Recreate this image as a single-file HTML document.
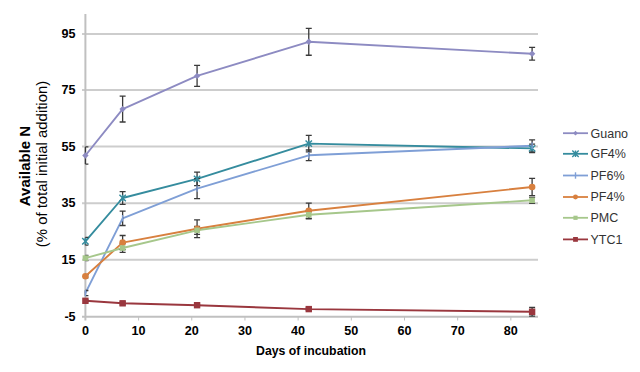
<!DOCTYPE html>
<html><head><meta charset="utf-8">
<style>
html,body{margin:0;padding:0;background:#fff;}
body{width:640px;height:372px;position:relative;overflow:hidden;font-family:"Liberation Sans",sans-serif;}
svg{position:absolute;left:0;top:0;}
.yt{position:absolute;left:40px;width:35.6px;text-align:right;font-weight:bold;font-size:12.6px;line-height:16px;color:#000;transform:scaleY(1.07);}
.xt{position:absolute;top:322.6px;width:40px;text-align:center;font-weight:bold;font-size:12.6px;line-height:16px;color:#000;transform:scaleY(1.07);}
.lg{position:absolute;left:590.5px;font-size:12.5px;line-height:16px;color:#333;}
.ttl{position:absolute;white-space:nowrap;color:#000;}
</style></head><body>
<svg width="640" height="372" viewBox="0 0 640 372">
<line x1="82" y1="34.0" x2="538" y2="34.0" stroke="#cdcdcd" stroke-width="2"/>
<line x1="82" y1="89.9" x2="538" y2="89.9" stroke="#cdcdcd" stroke-width="2"/>
<line x1="82" y1="146.6" x2="538" y2="146.6" stroke="#cdcdcd" stroke-width="2"/>
<line x1="82" y1="203.2" x2="538" y2="203.2" stroke="#cdcdcd" stroke-width="2"/>
<line x1="82" y1="259.7" x2="538" y2="259.7" stroke="#cdcdcd" stroke-width="2"/>
<line x1="82" y1="316.8" x2="538" y2="316.8" stroke="#c0c0c0" stroke-width="2"/>
<line x1="85.4" y1="14" x2="85.4" y2="320.5" stroke="#c0c0c0" stroke-width="2"/>
<line x1="138.58" y1="316.8" x2="138.58" y2="320.5" stroke="#c0c0c0" stroke-width="1"/>
<line x1="191.76" y1="316.8" x2="191.76" y2="320.5" stroke="#c0c0c0" stroke-width="1"/>
<line x1="244.94" y1="316.8" x2="244.94" y2="320.5" stroke="#c0c0c0" stroke-width="1"/>
<line x1="298.12" y1="316.8" x2="298.12" y2="320.5" stroke="#c0c0c0" stroke-width="1"/>
<line x1="351.30" y1="316.8" x2="351.30" y2="320.5" stroke="#c0c0c0" stroke-width="1"/>
<line x1="404.48" y1="316.8" x2="404.48" y2="320.5" stroke="#c0c0c0" stroke-width="1"/>
<line x1="457.66" y1="316.8" x2="457.66" y2="320.5" stroke="#c0c0c0" stroke-width="1"/>
<line x1="510.84" y1="316.8" x2="510.84" y2="320.5" stroke="#c0c0c0" stroke-width="1"/>
<polyline points="85.40,155.50 122.63,109.10 197.08,75.90 308.76,41.80 532.11,53.80" fill="none" stroke="#8d8bc2" stroke-width="1.9" stroke-linejoin="round"/>
<polyline points="85.40,241.30 122.63,198.00 197.08,178.90 308.76,143.60 532.11,148.40" fill="none" stroke="#358c9e" stroke-width="1.9" stroke-linejoin="round"/>
<polyline points="85.40,293.10 122.63,218.30 197.08,188.60 308.76,155.30 532.11,145.80" fill="none" stroke="#7f9fd6" stroke-width="1.9" stroke-linejoin="round"/>
<polyline points="85.40,276.30 122.63,242.60 197.08,228.70 308.76,210.80 532.11,187.00" fill="none" stroke="#d8803f" stroke-width="1.9" stroke-linejoin="round"/>
<polyline points="85.40,258.10 122.63,248.00 197.08,230.30 308.76,214.80 532.11,200.30" fill="none" stroke="#a6c78b" stroke-width="1.9" stroke-linejoin="round"/>
<polyline points="85.40,300.80 122.63,303.30 197.08,305.20 308.76,309.10 532.11,311.80" fill="none" stroke="#9a373e" stroke-width="1.9" stroke-linejoin="round"/>
<path d="M85.40 146.90L85.40 164.10M85.40 146.90L88.40 146.90M85.40 164.10L88.40 164.10" stroke="#3a3a3a" stroke-width="1.3" fill="none"/>
<path d="M122.63 96.20L122.63 122.00M119.63 96.20L125.63 96.20M119.63 122.00L125.63 122.00" stroke="#3a3a3a" stroke-width="1.3" fill="none"/>
<path d="M197.08 65.40L197.08 86.40M194.08 65.40L200.08 65.40M194.08 86.40L200.08 86.40" stroke="#3a3a3a" stroke-width="1.3" fill="none"/>
<path d="M308.76 28.35L308.76 55.25M305.76 28.35L311.76 28.35M305.76 55.25L311.76 55.25" stroke="#3a3a3a" stroke-width="1.3" fill="none"/>
<path d="M532.11 47.40L532.11 60.20M529.11 47.40L535.11 47.40M529.11 60.20L535.11 60.20" stroke="#3a3a3a" stroke-width="1.3" fill="none"/>
<path d="M85.40 237.40L85.40 245.20M85.40 237.40L88.40 237.40M85.40 245.20L88.40 245.20" stroke="#3a3a3a" stroke-width="1.3" fill="none"/>
<path d="M122.63 191.55L122.63 204.45M119.63 191.55L125.63 191.55M119.63 204.45L125.63 204.45" stroke="#3a3a3a" stroke-width="1.3" fill="none"/>
<path d="M197.08 172.20L197.08 185.60M194.08 172.20L200.08 172.20M194.08 185.60L200.08 185.60" stroke="#3a3a3a" stroke-width="1.3" fill="none"/>
<path d="M308.76 135.30L308.76 151.90M305.76 135.30L311.76 135.30M305.76 151.90L311.76 151.90" stroke="#3a3a3a" stroke-width="1.3" fill="none"/>
<path d="M532.11 144.10L532.11 152.70M529.11 144.10L535.11 144.10M529.11 152.70L535.11 152.70" stroke="#3a3a3a" stroke-width="1.3" fill="none"/>
<path d="M85.40 290.50L85.40 295.70M85.40 290.50L88.40 290.50M85.40 295.70L88.40 295.70" stroke="#3a3a3a" stroke-width="1.3" fill="none"/>
<path d="M122.63 211.10L122.63 225.50M119.63 211.10L125.63 211.10M119.63 225.50L125.63 225.50" stroke="#3a3a3a" stroke-width="1.3" fill="none"/>
<path d="M197.08 178.60L197.08 198.60M194.08 178.60L200.08 178.60M194.08 198.60L200.08 198.60" stroke="#3a3a3a" stroke-width="1.3" fill="none"/>
<path d="M308.76 150.00L308.76 160.60M305.76 150.00L311.76 150.00M305.76 160.60L311.76 160.60" stroke="#3a3a3a" stroke-width="1.3" fill="none"/>
<path d="M532.11 139.80L532.11 151.80M529.11 139.80L535.11 139.80M529.11 151.80L535.11 151.80" stroke="#3a3a3a" stroke-width="1.3" fill="none"/>
<path d="M85.40 274.80L85.40 277.80M85.40 274.80L88.40 274.80M85.40 277.80L88.40 277.80" stroke="#3a3a3a" stroke-width="1.3" fill="none"/>
<path d="M122.63 235.50L122.63 249.70M119.63 235.50L125.63 235.50M119.63 249.70L125.63 249.70" stroke="#3a3a3a" stroke-width="1.3" fill="none"/>
<path d="M197.08 219.80L197.08 237.60M194.08 219.80L200.08 219.80M194.08 237.60L200.08 237.60" stroke="#3a3a3a" stroke-width="1.3" fill="none"/>
<path d="M308.76 203.20L308.76 218.40M305.76 203.20L311.76 203.20M305.76 218.40L311.76 218.40" stroke="#3a3a3a" stroke-width="1.3" fill="none"/>
<path d="M532.11 178.40L532.11 195.60M529.11 178.40L535.11 178.40M529.11 195.60L535.11 195.60" stroke="#3a3a3a" stroke-width="1.3" fill="none"/>
<path d="M85.40 255.50L85.40 260.70M85.40 255.50L88.40 255.50M85.40 260.70L88.40 260.70" stroke="#3a3a3a" stroke-width="1.3" fill="none"/>
<path d="M122.63 243.60L122.63 252.40M119.63 243.60L125.63 243.60M119.63 252.40L125.63 252.40" stroke="#3a3a3a" stroke-width="1.3" fill="none"/>
<path d="M197.08 226.30L197.08 234.30M194.08 226.30L200.08 226.30M194.08 234.30L200.08 234.30" stroke="#3a3a3a" stroke-width="1.3" fill="none"/>
<path d="M308.76 210.80L308.76 218.80M305.76 210.80L311.76 210.80M305.76 218.80L311.76 218.80" stroke="#3a3a3a" stroke-width="1.3" fill="none"/>
<path d="M532.11 197.30L532.11 203.30M529.11 197.30L535.11 197.30M529.11 203.30L535.11 203.30" stroke="#3a3a3a" stroke-width="1.3" fill="none"/>
<path d="M85.40 299.80L85.40 301.80M85.40 299.80L88.40 299.80M85.40 301.80L88.40 301.80" stroke="#3a3a3a" stroke-width="1.3" fill="none"/>
<path d="M122.63 301.80L122.63 304.80M119.63 301.80L125.63 301.80M119.63 304.80L125.63 304.80" stroke="#3a3a3a" stroke-width="1.3" fill="none"/>
<path d="M197.08 304.20L197.08 306.20M194.08 304.20L200.08 304.20M194.08 306.20L200.08 306.20" stroke="#3a3a3a" stroke-width="1.3" fill="none"/>
<path d="M308.76 307.90L308.76 310.30M305.76 307.90L311.76 307.90M305.76 310.30L311.76 310.30" stroke="#3a3a3a" stroke-width="1.3" fill="none"/>
<path d="M532.11 307.50L532.11 316.10M529.11 307.50L535.11 307.50M529.11 316.10L535.11 316.10" stroke="#3a3a3a" stroke-width="1.3" fill="none"/>
<path d="M85.40 152.30L88.60 155.50L85.40 158.70L82.20 155.50Z" fill="#8d8bc2"/>
<path d="M122.63 105.90L125.83 109.10L122.63 112.30L119.43 109.10Z" fill="#8d8bc2"/>
<path d="M197.08 72.70L200.28 75.90L197.08 79.10L193.88 75.90Z" fill="#8d8bc2"/>
<path d="M308.76 38.60L311.96 41.80L308.76 45.00L305.56 41.80Z" fill="#8d8bc2"/>
<path d="M532.11 50.60L535.31 53.80L532.11 57.00L528.91 53.80Z" fill="#8d8bc2"/>
<path d="M82.20 238.10L88.60 244.50M88.60 238.10L82.20 244.50M85.40 238.10L85.40 244.50" stroke="#358c9e" stroke-width="1.4" fill="none"/>
<path d="M119.43 194.80L125.83 201.20M125.83 194.80L119.43 201.20M122.63 194.80L122.63 201.20" stroke="#358c9e" stroke-width="1.4" fill="none"/>
<path d="M193.88 175.70L200.28 182.10M200.28 175.70L193.88 182.10M197.08 175.70L197.08 182.10" stroke="#358c9e" stroke-width="1.4" fill="none"/>
<path d="M305.56 140.40L311.96 146.80M311.96 140.40L305.56 146.80M308.76 140.40L308.76 146.80" stroke="#358c9e" stroke-width="1.4" fill="none"/>
<path d="M528.91 145.20L535.31 151.60M535.31 145.20L528.91 151.60M532.11 145.20L532.11 151.60" stroke="#358c9e" stroke-width="1.4" fill="none"/>
<path d="M85.40 289.90L85.40 296.30" stroke="#7f9fd6" stroke-width="1.4" fill="none"/>
<path d="M122.63 215.10L122.63 221.50" stroke="#7f9fd6" stroke-width="1.4" fill="none"/>
<path d="M197.08 185.40L197.08 191.80" stroke="#7f9fd6" stroke-width="1.4" fill="none"/>
<path d="M308.76 152.10L308.76 158.50" stroke="#7f9fd6" stroke-width="1.4" fill="none"/>
<path d="M532.11 142.60L532.11 149.00" stroke="#7f9fd6" stroke-width="1.4" fill="none"/>
<circle cx="85.40" cy="276.30" r="3.30" fill="#d8803f"/>
<circle cx="122.63" cy="242.60" r="3.30" fill="#d8803f"/>
<circle cx="197.08" cy="228.70" r="3.30" fill="#d8803f"/>
<circle cx="308.76" cy="210.80" r="3.30" fill="#d8803f"/>
<circle cx="532.11" cy="187.00" r="3.30" fill="#d8803f"/>
<rect x="82.60" y="255.30" width="5.60" height="5.60" fill="#a6c78b"/>
<rect x="119.83" y="245.20" width="5.60" height="5.60" fill="#a6c78b"/>
<rect x="194.28" y="227.50" width="5.60" height="5.60" fill="#a6c78b"/>
<rect x="305.96" y="212.00" width="5.60" height="5.60" fill="#a6c78b"/>
<rect x="529.31" y="197.50" width="5.60" height="5.60" fill="#a6c78b"/>
<rect x="82.20" y="297.60" width="6.40" height="6.40" fill="#9a373e"/>
<rect x="119.43" y="300.10" width="6.40" height="6.40" fill="#9a373e"/>
<rect x="193.88" y="302.00" width="6.40" height="6.40" fill="#9a373e"/>
<rect x="305.56" y="305.90" width="6.40" height="6.40" fill="#9a373e"/>
<rect x="528.91" y="308.60" width="6.40" height="6.40" fill="#9a373e"/>
<line x1="563" y1="133.2" x2="588" y2="133.2" stroke="#8d8bc2" stroke-width="1.8"/>
<path d="M575.50 130.80L577.90 133.20L575.50 135.60L573.10 133.20Z" fill="#8d8bc2"/>
<line x1="563" y1="153.8" x2="588" y2="153.8" stroke="#358c9e" stroke-width="1.8"/>
<path d="M572.30 150.60L578.70 157.00M578.70 150.60L572.30 157.00M575.50 150.60L575.50 157.00" stroke="#358c9e" stroke-width="1.4" fill="none"/>
<line x1="563" y1="175.5" x2="588" y2="175.5" stroke="#7f9fd6" stroke-width="1.8"/>
<path d="M575.50 172.30L575.50 178.70" stroke="#7f9fd6" stroke-width="1.4" fill="none"/>
<line x1="563" y1="197.0" x2="588" y2="197.0" stroke="#d8803f" stroke-width="1.8"/>
<circle cx="575.50" cy="197.00" r="2.47" fill="#d8803f"/>
<line x1="563" y1="217.8" x2="588" y2="217.8" stroke="#a6c78b" stroke-width="1.8"/>
<rect x="573.40" y="215.70" width="4.20" height="4.20" fill="#a6c78b"/>
<line x1="563" y1="239.4" x2="588" y2="239.4" stroke="#9a373e" stroke-width="1.8"/>
<rect x="573.10" y="237.00" width="4.80" height="4.80" fill="#9a373e"/>
</svg>
<div class="yt" style="top:26.0px">95</div><div class="yt" style="top:81.9px">75</div><div class="yt" style="top:138.6px">55</div><div class="yt" style="top:195.2px">35</div><div class="yt" style="top:251.7px">15</div><div class="yt" style="top:308.8px">-5</div>
<div class="xt" style="left:65.4px">0</div><div class="xt" style="left:118.6px">10</div><div class="xt" style="left:171.8px">20</div><div class="xt" style="left:224.9px">30</div><div class="xt" style="left:278.1px">40</div><div class="xt" style="left:331.3px">50</div><div class="xt" style="left:384.5px">60</div><div class="xt" style="left:437.7px">70</div><div class="xt" style="left:490.8px">80</div>
<div class="lg" style="top:125.6px">Guano</div><div class="lg" style="top:146.2px">GF4%</div><div class="lg" style="top:167.9px">PF6%</div><div class="lg" style="top:189.4px">PF4%</div><div class="lg" style="top:210.2px">PMC</div><div class="lg" style="top:231.8px">YTC1</div>
<div class="ttl" style="left:256px;top:342.8px;font-size:12.3px;font-weight:bold;line-height:16px;transform:scaleY(1.05);">Days of incubation</div>
<div class="ttl" style="left:24.5px;top:166.4px;font-size:15px;font-weight:bold;line-height:16px;transform:translate(-50%,-50%) rotate(-90deg);">Available N</div>
<div class="ttl" style="left:42px;top:163.7px;font-size:14.9px;line-height:16px;transform:translate(-50%,-50%) rotate(-90deg);">(% of total initial addition)</div>
</body></html>
